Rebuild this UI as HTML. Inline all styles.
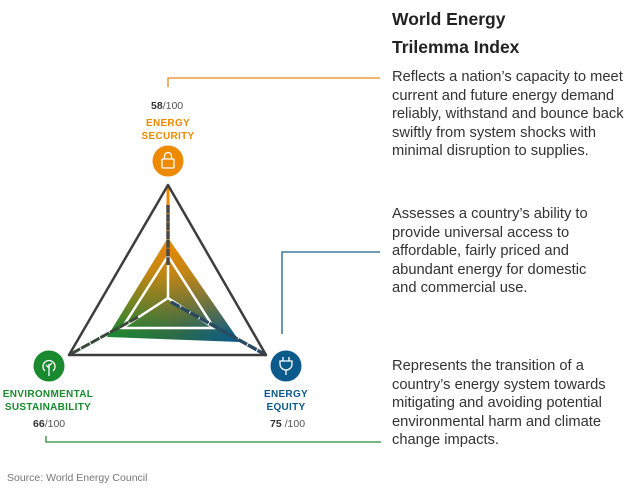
<!DOCTYPE html>
<html><head><meta charset="utf-8"><style>
html,body{margin:0;padding:0;background:#fff;}
body{width:635px;height:492px;position:relative;overflow:hidden;font-family:"Liberation Sans",sans-serif;}
.t{position:absolute;left:392px;font-size:14.7px;line-height:18.6px;color:#333;}
.h{position:absolute;left:392px;top:5px;font-size:17.5px;line-height:28px;font-weight:bold;color:#222;}
.lab{position:absolute;font-weight:bold;font-size:10px;line-height:13px;text-align:center;letter-spacing:0.3px;}
.sc{position:absolute;font-size:10.5px;color:#555;}
.sc b{color:#333;}
</style></head><body>
<svg width="635" height="492" style="position:absolute;left:0;top:0">
<defs>
<linearGradient id="gb" x1="107" y1="0" x2="240" y2="0" gradientUnits="userSpaceOnUse">
<stop offset="0" stop-color="#1a8a2e"/><stop offset="0.5" stop-color="#2c6b48"/><stop offset="1" stop-color="#0b5a8c"/></linearGradient>
<linearGradient id="or" x1="0" y1="238" x2="0" y2="335" gradientUnits="userSpaceOnUse">
<stop offset="0" stop-color="#ee8a00" stop-opacity="1"/><stop offset="0.35" stop-color="#e08a0a" stop-opacity="0.85"/><stop offset="1" stop-color="#e08a0a" stop-opacity="0"/></linearGradient>
</defs>
<polyline points="168,87 168,78 380,78" fill="none" stroke="#e8891a" stroke-width="1.3"/>
<polyline points="282,334 282,252 380,252" fill="none" stroke="#1e5f8e" stroke-width="1.3"/>
<polyline points="46,436 46,442 381,442" fill="none" stroke="#2a8a3a" stroke-width="1.3"/>
<polygon points="168,238 107,337 240,342" fill="url(#gb)"/>
<polygon points="168,238 107,337 240,342" fill="url(#or)"/>
<line x1="168" y1="185" x2="168" y2="238" stroke="#ee8a00" stroke-width="3"/>
<polygon points="168,256 122,328 214,328" fill="none" stroke="#fff" stroke-width="2.5"/>
<polyline points="168,256 168,298 122,328" fill="none" stroke="#fff" stroke-width="2.5"/>
<line x1="168" y1="298" x2="214" y2="328" stroke="#fff" stroke-width="2.5"/>
<line x1="168" y1="205" x2="168" y2="265" stroke="#4a4a44" stroke-width="3.5" stroke-dasharray="8 0.7"/>
<line x1="171" y1="302" x2="266" y2="355" stroke="#2a4a60" stroke-width="3.5" stroke-dasharray="10 1"/>
<line x1="138" y1="317" x2="69" y2="355" stroke="#3a4a3a" stroke-width="3" stroke-dasharray="10 1"/>
<polygon points="168,185 69,355 266,355" fill="none" stroke="#3d3d3d" stroke-width="2.5" stroke-linejoin="round"/>
<circle cx="168" cy="161" r="15.5" fill="#ee8a00"/>
<rect x="162" y="159" width="12" height="9" rx="1" fill="none" stroke="#fff" stroke-width="1.3"/>
<path d="M164.5 159 v-3 a3.5 3.5 0 0 1 7 0 v3" fill="none" stroke="#fff" stroke-width="1.3"/>
<circle cx="49" cy="366" r="15.5" fill="#1a8a2e"/>
<path d="M49 376 v-12 M49 368 l-3 -3 M49 366 l3 -3" stroke="#fff" stroke-width="1.3" fill="none"/>
<path d="M45 371 a6 6 0 1 1 8 0" stroke="#fff" stroke-width="1.3" fill="none"/>
<circle cx="286" cy="366" r="15.5" fill="#0b5a8c"/>
<path d="M283 357 v4 M289 357 v4 M280 361 h12 v3 a6 6 0 0 1 -12 0 z M286 370 v5" stroke="#fff" stroke-width="1.3" fill="none"/>
</svg>
<div class="sc" style="left:151px;top:100px"><b>58</b>/100</div>
<div class="lab" style="left:128px;top:117px;width:80px;color:#ee8a00">ENERGY<br>SECURITY</div>
<div class="lab" style="left:-8px;top:388px;width:112px;color:#1a8a2e">ENVIRONMENTAL<br>SUSTAINABILITY</div>
<div class="sc" style="left:33px;top:418px"><b>66</b>/100</div>
<div class="lab" style="left:256px;top:388px;width:60px;color:#0b5a8c">ENERGY<br>EQUITY</div>
<div class="sc" style="left:270px;top:418px"><b>75</b> /100</div>
<div class="h">World Energy<br>Trilemma Index</div>
<div class="t" style="top:68px">Reflects a nation’s capacity to meet<br>current and future energy demand<br>reliably, withstand and bounce back<br>swiftly from system shocks with<br>minimal disruption to supplies.</div>
<div class="t" style="top:205px">Assesses a country’s ability to<br>provide universal access to<br>affordable, fairly priced and<br>abundant energy for domestic<br>and commercial use.</div>
<div class="t" style="top:357px">Represents the transition of a<br>country’s energy system towards<br>mitigating and avoiding potential<br>environmental harm and climate<br>change impacts.</div>
<div style="position:absolute;left:7px;top:472px;font-size:10.5px;color:#777">Source: World Energy Council</div>
</body></html>
